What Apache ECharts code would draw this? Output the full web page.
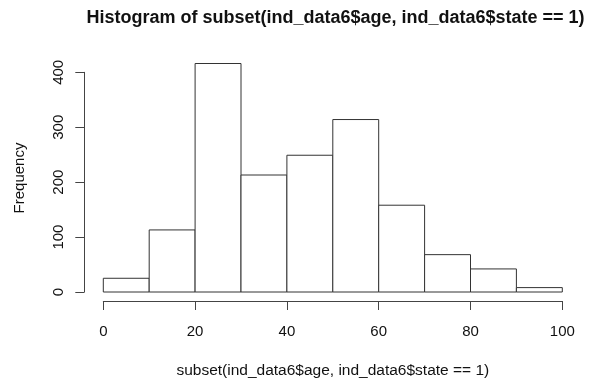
<!DOCTYPE html>
<html>
<head>
<meta charset="utf-8">
<script src="https://cdn.jsdelivr.net/npm/echarts@6/dist/echarts.min.js"></script>
<style>
  html, body { margin: 0; padding: 0; background: #fff; }
  #chart { width: 596px; height: 383px; }
</style>
</head>
<body>
<div id="chart"></div>
<script>
// Histogram bins (age, width 10) and their counts
const binStarts = [0, 10, 20, 30, 40, 50, 60, 70, 80, 90];
const binEnds = [10, 20, 30, 40, 50, 60, 70, 80, 90, 100];
const counts = [25, 113, 416, 213, 249, 314, 158, 68, 42, 8];
const xTicks = [0, 20, 40, 60, 80, 100];
const yTicks = [0, 100, 200, 300, 400];

const titleText = 'Histogram of subset(ind_data6$age, ind_data6$state == 1)';
const xName = 'subset(ind_data6$age, ind_data6$state == 1)';
const yName = 'Frequency';

const FONT = '"Liberation Sans", Arial, Helvetica, sans-serif';

const chart = echarts.init(document.getElementById('chart'), null, { renderer: 'canvas' });

const histData = binStarts.map((s, i) => [s, binEnds[i], counts[i]]);

chart.setOption({
  animation: false,
  backgroundColor: '#ffffff',
  grid: { left: 103.3, right: 33.7, top: 72.3, bottom: 91 },
  xAxis: {
    type: 'value',
    min: xTicks[0],
    max: xTicks[xTicks.length - 1],
    interval: 20,
    offset: 9,
    splitLine: { show: false },
    axisLine: { show: true, onZero: false, lineStyle: { color: '#444', width: 1 } },
    axisTick: { show: true, length: 9, lineStyle: { color: '#444', width: 1 } },
    axisLabel: { color: '#111', fontFamily: FONT, fontSize: 15, margin: 23 }
  },
  yAxis: {
    type: 'value',
    min: yTicks[0],
    max: yTicks[yTicks.length - 1],
    interval: 100,
    offset: 19,
    splitLine: { show: false },
    axisLine: { show: true, onZero: false, lineStyle: { color: '#444', width: 1 } },
    axisTick: { show: true, length: 9, lineStyle: { color: '#444', width: 1 } },
    axisLabel: { color: '#111', fontFamily: FONT, fontSize: 15, rotate: 90, margin: 18 }
  },
  graphic: [
    {
      type: 'text', x: 335.5, y: 18,
      style: { text: titleText, font: 'bold 18px ' + FONT, fill: '#111', textAlign: 'center', textVerticalAlign: 'middle' }
    },
    {
      type: 'text', x: 332.8, y: 371,
      style: { text: xName, font: '15.5px ' + FONT, fill: '#111', textAlign: 'center', textVerticalAlign: 'middle' }
    },
    {
      type: 'text', x: 20, y: 178, rotation: Math.PI / 2,
      style: { text: yName, font: '15px ' + FONT, fill: '#111', textAlign: 'center', textVerticalAlign: 'middle' }
    }
  ],
  series: [{
    type: 'custom',
    clip: false,
    data: histData,
    encode: { x: [0, 1], y: 2 },
    renderItem: function (params, api) {
      const p0 = api.coord([api.value(0), 0]);
      const p1 = api.coord([api.value(1), api.value(2)]);
      return {
        type: 'rect',
        shape: { x: p0[0], y: p1[1], width: p1[0] - p0[0], height: p0[1] - p1[1] },
        style: { fill: '#ffffff', stroke: '#333', lineWidth: 1 }
      };
    }
  }]
});
</script>
</body>
</html>
